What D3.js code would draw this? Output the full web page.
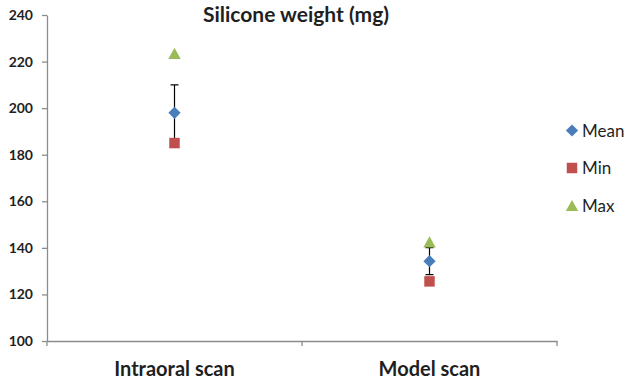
<!DOCTYPE html>
<html>
<head>
<meta charset="utf-8">
<script src="https://cdn.jsdelivr.net/npm/d3@7"></script>
<style>
  body { margin: 0; background: #fff; }
  text { font-family: Lato, "Open Sans", sans-serif; }
</style>
</head>
<body>
<div id="chart"></div>
<script>
// chart data
const categories = ['Intraoral scan', 'Model scan'];
const meanValues = [198, 134.3];
const sdValues = [12, 5.8];
const minValues = [185, 125.6];
const maxValues = [223.5, 142.6];
const yTicks = [100, 120, 140, 160, 180, 200, 220, 240];

const width = 629, height = 382;
const margin = { top: 15, right: 72, bottom: 41, left: 47 };

const svg = d3.select('#chart').append('svg')
    .attr('width', width)
    .attr('height', height);

const x = d3.scaleBand()
    .domain(categories)
    .range([margin.left, width - margin.right]);

const y = d3.scaleLinear()
    .domain([100, 240])
    .range([height - margin.bottom, margin.top]);

const axisColor = '#8c8c8c';
const textColor = '#1f1f1f';

// square rotated 45 degrees, like the spreadsheet diamond marker
const diamond = {
    draw(context, size) {
        const r = Math.sqrt(size / 2);
        context.moveTo(0, -r);
        context.lineTo(r, 0);
        context.lineTo(0, r);
        context.lineTo(-r, 0);
        context.closePath();
    }
};

// triangle centred on its bounding box
const triangle = {
    draw(context, size) {
        const w = Math.sqrt(size * 2.2);
        const h = w * 0.9;
        context.moveTo(0, -h / 2);
        context.lineTo(w / 2, h / 2);
        context.lineTo(-w / 2, h / 2);
        context.closePath();
    }
};

// y axis
const yAxis = svg.append('g')
    .attr('transform', `translate(${margin.left},0)`)
    .call(d3.axisLeft(y).tickValues(yTicks).tickSize(5).tickPadding(9).tickSizeOuter(0));
yAxis.select('.domain').attr('stroke', axisColor).attr('stroke-width', 1.3);
yAxis.selectAll('.tick line').attr('stroke', axisColor).attr('stroke-width', 1.3);
yAxis.selectAll('.tick text')
    .attr('fill', textColor)
    .style('font-size', '14px')
    .style('font-weight', 'bold');

// x axis
const xAxis = svg.append('g')
    .attr('transform', `translate(0,${y(100)})`)
    .call(d3.axisBottom(x).tickSize(0).tickPadding(21).tickSizeOuter(0));
xAxis.select('.domain').attr('stroke', axisColor).attr('stroke-width', 1.3);
xAxis.selectAll('.tick text')
    .attr('fill', textColor)
    .style('font-size', '20px')
    .style('font-weight', 'bold');

// tick marks between categories
const boundaries = [x.range()[0]].concat(categories.map(c => x(c) + x.bandwidth()));
svg.append('g').selectAll('line')
    .data(boundaries)
    .enter().append('line')
    .attr('x1', d => d).attr('x2', d => d)
    .attr('y1', y(100)).attr('y2', y(100) + 5)
    .attr('stroke', axisColor)
    .attr('stroke-width', 1.3);

// title
svg.append('text')
    .attr('x', 296)
    .attr('y', 22)
    .attr('text-anchor', 'middle')
    .attr('fill', textColor)
    .style('font-size', '21px')
    .style('font-weight', 'bold')
    .text('Silicone weight (mg)');

const cx = d => x(d) + x.bandwidth() / 2;

// error bars on the mean
const err = svg.append('g');
categories.forEach((c, i) => {
    const top = y(meanValues[i] + sdValues[i]);
    const bottom = y(meanValues[i] - sdValues[i]);
    err.append('line')
        .attr('x1', cx(c)).attr('x2', cx(c))
        .attr('y1', top).attr('y2', bottom)
        .attr('stroke', '#000').attr('stroke-width', 1.2);
    [top, bottom].forEach(v => {
        err.append('line')
            .attr('x1', cx(c) - 4).attr('x2', cx(c) + 4)
            .attr('y1', v).attr('y2', v)
            .attr('stroke', '#000').attr('stroke-width', 1.2);
    });
});

const series = [
    { name: 'Mean', values: meanValues, color: '#4a7ebb', symbol: diamond, size: 75 },
    { name: 'Min', values: minValues, color: '#c0504d', symbol: d3.symbolSquare, size: 110 },
    { name: 'Max', values: maxValues, color: '#9bbb59', symbol: triangle, size: 70 }
];

// markers (min drawn first, then max, then mean on top)
[series[1], series[2], series[0]].forEach(s => {
    svg.append('g').selectAll('path')
        .data(categories)
        .enter().append('path')
        .attr('d', d3.symbol().type(s.symbol).size(s.size))
        .attr('transform', (d, i) => `translate(${cx(d)},${y(s.values[i])})`)
        .attr('fill', s.color);
});

// legend
const legend = svg.append('g');
series.forEach((s, i) => {
    const ly = 130.5 + i * 37.5;
    legend.append('path')
        .attr('d', d3.symbol().type(s.symbol).size(s.size))
        .attr('transform', `translate(572,${ly})`)
        .attr('fill', s.color);
    legend.append('text')
        .attr('x', 582)
        .attr('y', ly + 6)
        .attr('fill', textColor)
        .style('font-size', '17px')
        .text(s.name);
});
</script>
</body>
</html>
